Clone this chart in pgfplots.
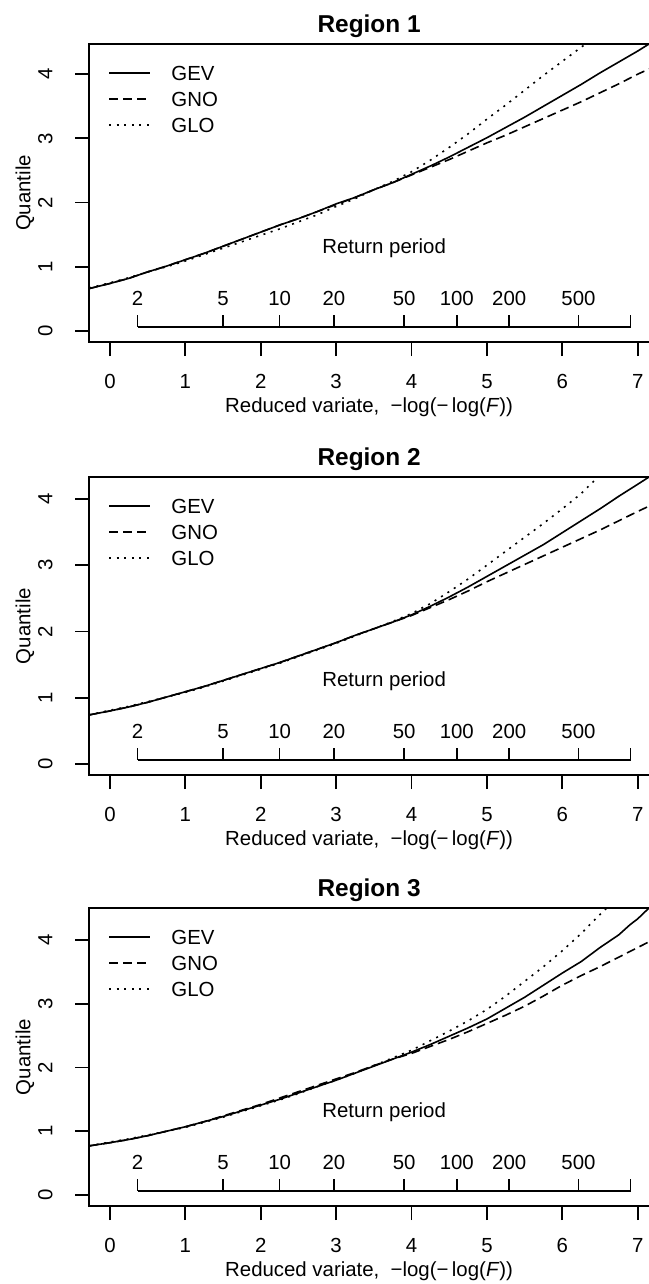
\documentclass[border=0pt]{standalone}
\usepackage{fontspec}
\setmainfont{Liberation Sans}
\usepackage{pgfplots}
\usepackage{pgfplotstable}
\pgfplotsset{compat=1.18}

\pgfplotstableread{
x gev gno glo
-0.276 0.66 0.66 0.67
0.00 0.74 0.74 0.75
0.25 0.82 0.82 0.83
0.50 0.92 0.92 0.92
0.75 1.01 1.01 1.00
1.00 1.11 1.11 1.09
1.25 1.21 1.21 1.19
1.50 1.32 1.32 1.29
1.75 1.43 1.43 1.39
2.00 1.54 1.54 1.49
2.25 1.65 1.65 1.59
2.50 1.75 1.75 1.70
2.75 1.86 1.86 1.81
3.00 1.98 1.97 1.94
3.25 2.08 2.08 2.06
3.50 2.20 2.20 2.20
3.75 2.31 2.31 2.33
4.00 2.44 2.43 2.48
4.25 2.57 2.55 2.66
4.50 2.71 2.67 2.86
4.75 2.86 2.80 3.07
5.00 3.01 2.93 3.30
5.25 3.17 3.05 3.52
5.50 3.33 3.18 3.75
5.75 3.50 3.31 3.98
6.00 3.67 3.44 4.20
6.25 3.84 3.57 4.42
6.50 4.02 3.71 4.63
6.75 4.19 3.85 4.85
7.00 4.36 4.00 5.05
7.15 4.47 4.08 5.17
}\regA

\pgfplotstableread{
x gev gno glo
-0.276 0.74 0.74 0.74
0.00 0.80 0.80 0.81
0.25 0.86 0.86 0.87
0.50 0.93 0.93 0.94
0.75 1.01 1.01 1.01
1.00 1.09 1.09 1.08
1.25 1.17 1.17 1.16
1.50 1.26 1.26 1.25
1.75 1.35 1.35 1.34
2.00 1.44 1.44 1.43
2.25 1.53 1.53 1.52
2.50 1.63 1.63 1.62
2.75 1.73 1.73 1.72
3.00 1.83 1.83 1.82
3.25 1.94 1.94 1.93
3.50 2.04 2.04 2.04
3.75 2.14 2.14 2.15
4.00 2.25 2.24 2.27
4.25 2.38 2.36 2.42
4.50 2.52 2.48 2.60
4.75 2.67 2.61 2.79
5.00 2.83 2.75 3.00
5.25 2.99 2.88 3.21
5.50 3.15 3.01 3.42
5.75 3.31 3.14 3.63
6.00 3.49 3.27 3.85
6.25 3.67 3.40 4.08
6.50 3.85 3.53 4.36
6.75 4.04 3.67 4.64
7.00 4.22 3.81 4.90
7.15 4.33 3.89 5.06
}\regB

\pgfplotstableread{
x gev gno glo
-0.276 0.77 0.77 0.77
0.00 0.82 0.82 0.83
0.25 0.87 0.87 0.88
0.50 0.93 0.93 0.94
0.75 1.00 1.00 1.00
1.00 1.07 1.07 1.06
1.25 1.15 1.15 1.14
1.50 1.23 1.24 1.22
1.75 1.32 1.33 1.31
2.00 1.41 1.42 1.40
2.25 1.50 1.52 1.49
2.50 1.60 1.62 1.59
2.75 1.70 1.72 1.70
3.00 1.80 1.82 1.80
3.25 1.91 1.92 1.91
3.50 2.02 2.03 2.03
3.75 2.13 2.13 2.15
4.00 2.24 2.22 2.27
4.25 2.36 2.33 2.42
4.50 2.49 2.44 2.57
4.75 2.62 2.56 2.73
5.00 2.76 2.69 2.91
5.25 2.93 2.82 3.12
5.50 3.10 2.96 3.35
5.75 3.29 3.12 3.58
6.00 3.48 3.29 3.83
6.25 3.66 3.44 4.10
6.50 3.88 3.58 4.40
6.75 4.08 3.73 4.68
6.90 4.24 3.82 4.85
7.00 4.33 3.88 4.96
7.15 4.50 3.97 5.12
}\regC

\tikzset{
  gev/.style={black, line width=0.8bp, solid},
  gno/.style={black, line width=0.8bp, dash pattern=on 4.5bp off 2.5bp},
  glo/.style={black, line width=0.8bp, dash pattern=on 1bp off 2.8bp},
}

\pgfplotsset{
  regstyle/.style={
    scale only axis, width=279.9bp, height=149bp,
    xmin=-0.276, xmax=7.15,
    axis lines*=left,
    axis line style={line width=1bp, line cap=rect},
    clip mode=individual,
    tick align=outside, major tick length=7bp,
    major tick style={black, line width=0.9bp},
    xtick={0,1,...,7}, ytick={0,1,...,4},
    /pgf/number format/assume math mode=true,
    tick label style={font=\fontsize{10.2bp}{12bp}\selectfont},
    xticklabel style={anchor=base, yshift=-16.15bp},
    yticklabel style={xshift=-11.45bp, rotate=90, anchor=base},
    xlabel={Reduced variate,\ \ −log(−\,log(\textit{F}))},
    ylabel={Quantile},
    every axis x label/.style={at={(axis description cs:0.5,0)}, anchor=base, yshift=-35bp, font=\fontsize{10.2bp}{12bp}\selectfont},
    every axis y label/.style={at={(axis description cs:0,0.5)}, xshift=-32.1bp, rotate=90, anchor=center, font=\fontsize{10.2bp}{12bp}\selectfont},
    every axis title/.style={at={(axis description cs:0.5,1)}, anchor=base, yshift=6bp, font=\bfseries\fontsize{12.2bp}{14bp}\selectfont},
  },
}

\newcommand\reglegend{%
  \draw[gev] ([xshift=9.9bp,yshift=-14.5bp]rel axis cs:0,1) -- ([xshift=30.4bp,yshift=-14.5bp]rel axis cs:0,1);
  \draw[gno] ([xshift=9.9bp,yshift=-27.5bp]rel axis cs:0,1) -- ([xshift=30.4bp,yshift=-27.5bp]rel axis cs:0,1);
  \draw[glo] ([xshift=9.9bp,yshift=-40.5bp]rel axis cs:0,1) -- ([xshift=30.4bp,yshift=-40.5bp]rel axis cs:0,1);
  \node[anchor=base west, inner sep=0pt] at ([xshift=40.9bp,yshift=-18bp]rel axis cs:0,1) {GEV};
  \node[anchor=base west, inner sep=0pt] at ([xshift=40.9bp,yshift=-31bp]rel axis cs:0,1) {GNO};
  \node[anchor=base west, inner sep=0pt] at ([xshift=40.9bp,yshift=-44bp]rel axis cs:0,1) {GLO};
  \draw[line width=1bp, line cap=rect] (rel axis cs:0,1) -- (rel axis cs:1,1);
}
\newcommand\rptick[2]{%
  \draw[line width=0.8bp] ([yshift=2bp]axis cs:#1,0) -- ([yshift=8bp]axis cs:#1,0);
  \node[anchor=base, inner sep=0pt] at ([yshift=12.85bp]axis cs:#1,0) {#2};
}
\newcommand\rpaxis{%
  \draw[line width=0.8bp] ([yshift=2bp]axis cs:0.367,0) -- ([yshift=2bp]axis cs:6.907,0);
  \rptick{0.367}{2}
  \rptick{1.500}{5}
  \rptick{2.250}{10}
  \rptick{2.970}{20}
  \rptick{3.902}{50}
  \rptick{4.600}{100}
  \rptick{5.296}{200}
  \rptick{6.214}{500}
  \draw[line width=0.8bp] ([yshift=2bp]axis cs:6.907,0) -- ([yshift=8bp]axis cs:6.907,0);
  \node[anchor=base, inner sep=0pt] at ([yshift=38.5bp]axis cs:3.637,0) {Return period};
}

\begin{document}
\fontsize{10.2bp}{12bp}\selectfont
\begin{tikzpicture}[font=\fontsize{10.2bp}{12bp}\selectfont]
\useasboundingbox (0,0) rectangle (324.5bp,-642bp);

\begin{axis}[regstyle, at={(44.6bp,-22bp)}, anchor=north west,
  ymin=-0.172, ymax=4.47, title={Region 1}]
  \addplot[gev] table[x=x, y=gev] {\regA};
  \addplot[gno] table[x=x, y=gno] {\regA};
  \addplot[glo] table[x=x, y=glo] {\regA};
  \reglegend
  \rpaxis
\end{axis}

\begin{axis}[regstyle, at={(44.6bp,-238.5bp)}, anchor=north west,
  ymin=-0.167, ymax=4.33, title={Region 2}]
  \addplot[gev] table[x=x, y=gev] {\regB};
  \addplot[gno] table[x=x, y=gno] {\regB};
  \addplot[glo] table[x=x, y=glo] {\regB};
  \reglegend
  \rpaxis
\end{axis}

\begin{axis}[regstyle, at={(44.6bp,-454bp)}, anchor=north west,
  ymin=-0.173, ymax=4.50, title={Region 3}]
  \addplot[gev] table[x=x, y=gev] {\regC};
  \addplot[gno] table[x=x, y=gno] {\regC};
  \addplot[glo] table[x=x, y=glo] {\regC};
  \reglegend
  \rpaxis
\end{axis}
\end{tikzpicture}
\end{document}
